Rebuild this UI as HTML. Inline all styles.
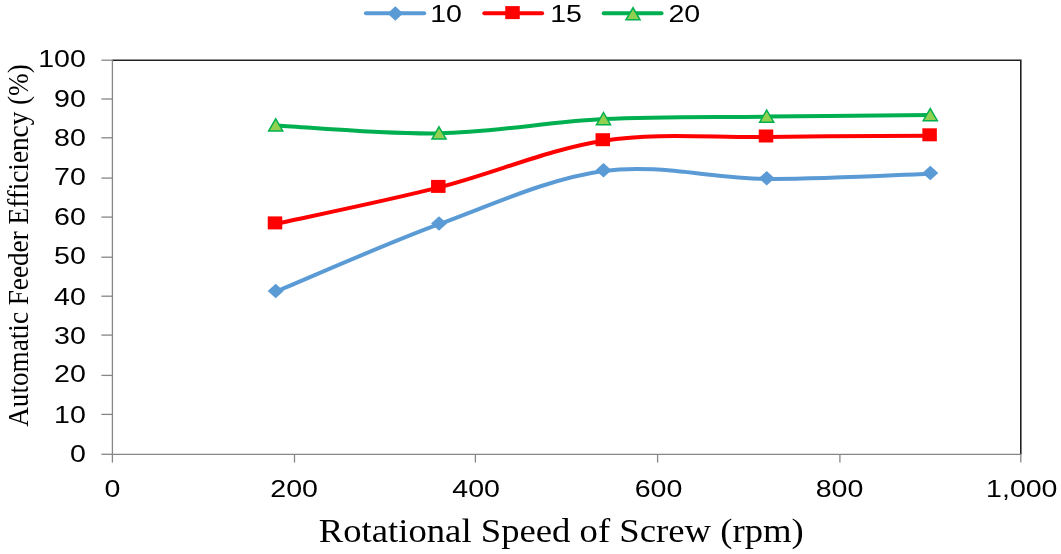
<!DOCTYPE html>
<html><head><meta charset="utf-8"><style>
html,body{margin:0;padding:0;background:#fff;}
body{width:1061px;height:554px;overflow:hidden;}
svg{display:block;will-change:transform;}
.tk{font-family:"Liberation Sans",sans-serif;font-size:24px;fill:#000;}
.ttl{font-family:"Liberation Serif",serif;fill:#000;}
</style></head><body>
<svg width="1061" height="554" viewBox="0 0 1061 554">
<line x1="101.4" y1="454.30" x2="112.4" y2="454.30" stroke="#868686" stroke-width="1.3"/>
<line x1="101.4" y1="414.40" x2="112.4" y2="414.40" stroke="#868686" stroke-width="1.3"/>
<line x1="101.4" y1="375.40" x2="112.4" y2="375.40" stroke="#868686" stroke-width="1.3"/>
<line x1="101.4" y1="335.10" x2="112.4" y2="335.10" stroke="#868686" stroke-width="1.3"/>
<line x1="101.4" y1="296.20" x2="112.4" y2="296.20" stroke="#868686" stroke-width="1.3"/>
<line x1="101.4" y1="257.20" x2="112.4" y2="257.20" stroke="#868686" stroke-width="1.3"/>
<line x1="101.4" y1="217.10" x2="112.4" y2="217.10" stroke="#868686" stroke-width="1.3"/>
<line x1="101.4" y1="178.10" x2="112.4" y2="178.10" stroke="#868686" stroke-width="1.3"/>
<line x1="101.4" y1="137.80" x2="112.4" y2="137.80" stroke="#868686" stroke-width="1.3"/>
<line x1="101.4" y1="99.00" x2="112.4" y2="99.00" stroke="#868686" stroke-width="1.3"/>
<line x1="101.4" y1="60.20" x2="112.4" y2="60.20" stroke="#868686" stroke-width="1.3"/>
<line x1="112.40" y1="454.4" x2="112.40" y2="462.6" stroke="#868686" stroke-width="1.3"/>
<line x1="294.50" y1="454.4" x2="294.50" y2="462.6" stroke="#868686" stroke-width="1.3"/>
<line x1="475.40" y1="454.4" x2="475.40" y2="462.6" stroke="#868686" stroke-width="1.3"/>
<line x1="657.60" y1="454.4" x2="657.60" y2="462.6" stroke="#868686" stroke-width="1.3"/>
<line x1="839.90" y1="454.4" x2="839.90" y2="462.6" stroke="#868686" stroke-width="1.3"/>
<line x1="1020.80" y1="454.4" x2="1020.80" y2="462.6" stroke="#868686" stroke-width="1.3"/>
<path d="M112.4,60.2 H1020.8 V454.4" fill="none" stroke="#222222" stroke-width="1.6"/>
<line x1="112.4" y1="60.2" x2="112.4" y2="454.4" stroke="#868686" stroke-width="1.3"/>
<line x1="112.4" y1="454.4" x2="1020.8" y2="454.4" stroke="#868686" stroke-width="1.3"/>
<path d="M275.70,291.70 C302.92,280.45 384.37,244.32 439.00,224.20 C493.63,204.08 548.88,178.55 603.50,171.00 C658.12,163.45 712.23,178.45 766.70,178.90 C821.17,179.35 903.03,174.57 930.30,173.70" fill="none" stroke="#5B9BD5" stroke-width="4.0" stroke-linecap="round" stroke-linejoin="round"/>
<path d="M275.70,223.90 C302.92,217.82 384.37,201.27 439.00,187.40 C493.63,173.53 548.88,149.10 603.50,140.70 C658.12,132.30 712.23,137.82 766.70,137.00 C821.17,136.18 903.03,136.00 930.30,135.80" fill="none" stroke="#FF0000" stroke-width="4.0" stroke-linecap="round" stroke-linejoin="round"/>
<path d="M275.70,125.40 C302.92,126.73 384.37,134.45 439.00,133.40 C493.63,132.35 548.88,121.90 603.50,119.10 C658.12,116.30 712.23,117.27 766.70,116.60 C821.17,115.93 903.03,115.35 930.30,115.10" fill="none" stroke="#00B050" stroke-width="4.0" stroke-linecap="round" stroke-linejoin="round"/>
<path d="M267.70,291.00 L275.70,283.80 L283.70,291.00 L275.70,298.20 Z" fill="#5B9BD5"/>
<path d="M431.00,223.50 L439.00,216.30 L447.00,223.50 L439.00,230.70 Z" fill="#5B9BD5"/>
<path d="M595.50,170.30 L603.50,163.10 L611.50,170.30 L603.50,177.50 Z" fill="#5B9BD5"/>
<path d="M758.70,178.20 L766.70,171.00 L774.70,178.20 L766.70,185.40 Z" fill="#5B9BD5"/>
<path d="M922.30,173.00 L930.30,165.80 L938.30,173.00 L930.30,180.20 Z" fill="#5B9BD5"/>
<rect x="267.75" y="216.40" width="14.5" height="13.0" fill="#FF0000"/>
<rect x="431.05" y="179.90" width="14.5" height="13.0" fill="#FF0000"/>
<rect x="595.55" y="133.20" width="14.5" height="13.0" fill="#FF0000"/>
<rect x="758.75" y="129.50" width="14.5" height="13.0" fill="#FF0000"/>
<rect x="922.35" y="128.30" width="14.5" height="13.0" fill="#FF0000"/>
<path d="M275.70,118.85 L282.75,130.95 L268.65,130.95 Z" fill="#92D050" stroke="#00B050" stroke-width="1.5" stroke-linejoin="miter"/>
<path d="M439.00,126.85 L446.05,138.95 L431.95,138.95 Z" fill="#92D050" stroke="#00B050" stroke-width="1.5" stroke-linejoin="miter"/>
<path d="M603.50,112.55 L610.55,124.65 L596.45,124.65 Z" fill="#92D050" stroke="#00B050" stroke-width="1.5" stroke-linejoin="miter"/>
<path d="M766.70,110.05 L773.75,122.15 L759.65,122.15 Z" fill="#92D050" stroke="#00B050" stroke-width="1.5" stroke-linejoin="miter"/>
<path d="M930.30,108.55 L937.35,120.65 L923.25,120.65 Z" fill="#92D050" stroke="#00B050" stroke-width="1.5" stroke-linejoin="miter"/>
<line x1="365.9" y1="13.3" x2="424.2" y2="13.3" stroke="#5B9BD5" stroke-width="4.0" stroke-linecap="round"/>
<path d="M387.50,13.50 L395.30,6.20 L403.10,13.50 L395.30,20.80 Z" fill="#5B9BD5"/>
<line x1="484.3" y1="13.3" x2="542.1" y2="13.3" stroke="#FF0000" stroke-width="4.0" stroke-linecap="round"/>
<rect x="505.25" y="6.10" width="14.5" height="13.0" fill="#FF0000"/>
<line x1="603.7" y1="13.3" x2="661.5" y2="13.3" stroke="#00B050" stroke-width="4.0" stroke-linecap="round"/>
<path d="M633.00,7.75 L640.05,19.85 L625.95,19.85 Z" fill="#92D050" stroke="#00B050" stroke-width="1.5" stroke-linejoin="miter"/>
<text x="72.10" y="461.85" text-anchor="end" transform="scale(1.19,1)" class="tk">0</text>
<text x="72.10" y="423.05" text-anchor="end" transform="scale(1.19,1)" class="tk">10</text>
<text x="72.10" y="382.40" text-anchor="end" transform="scale(1.19,1)" class="tk">20</text>
<text x="72.10" y="343.80" text-anchor="end" transform="scale(1.19,1)" class="tk">30</text>
<text x="72.10" y="305.05" text-anchor="end" transform="scale(1.19,1)" class="tk">40</text>
<text x="72.10" y="264.40" text-anchor="end" transform="scale(1.19,1)" class="tk">50</text>
<text x="72.10" y="225.40" text-anchor="end" transform="scale(1.19,1)" class="tk">60</text>
<text x="72.10" y="185.35" text-anchor="end" transform="scale(1.19,1)" class="tk">70</text>
<text x="72.10" y="146.20" text-anchor="end" transform="scale(1.19,1)" class="tk">80</text>
<text x="72.10" y="107.40" text-anchor="end" transform="scale(1.19,1)" class="tk">90</text>
<text x="72.10" y="67.40" text-anchor="end" transform="scale(1.19,1)" class="tk">100</text>
<text x="94.45" y="496.70" text-anchor="middle" transform="scale(1.19,1)" class="tk">0</text>
<text x="247.18" y="496.70" text-anchor="middle" transform="scale(1.19,1)" class="tk">200</text>
<text x="400.13" y="496.70" text-anchor="middle" transform="scale(1.19,1)" class="tk">400</text>
<text x="553.40" y="496.70" text-anchor="middle" transform="scale(1.19,1)" class="tk">600</text>
<text x="705.46" y="496.70" text-anchor="middle" transform="scale(1.19,1)" class="tk">800</text>
<text x="858.66" y="496.70" text-anchor="middle" transform="scale(1.19,1)" class="tk">1,000</text>
<text x="361.51" y="22.30" text-anchor="start" transform="scale(1.19,1)" class="tk">10</text>
<text x="462.35" y="22.30" text-anchor="start" transform="scale(1.19,1)" class="tk">15</text>
<text x="561.68" y="22.30" text-anchor="start" transform="scale(1.19,1)" class="tk">20</text>
<text x="516.80" y="542.1" transform="scale(1.086,1)" text-anchor="middle" class="ttl" font-size="33.8">Rotational Speed of Screw (rpm)</text>
<text transform="translate(28.4,245.5) scale(1.07,1) rotate(-90)" text-anchor="middle" class="ttl" font-size="27.2">Automatic Feeder Efficiency (%)</text>
</svg>
</body></html>
